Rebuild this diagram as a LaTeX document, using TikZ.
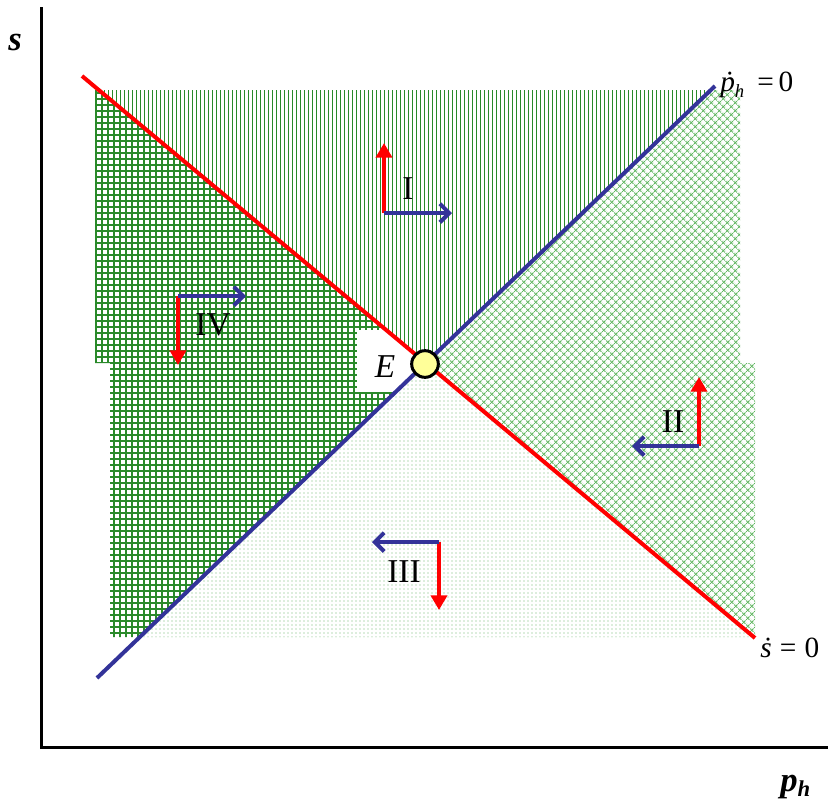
\documentclass[tikz,border=0pt]{standalone}
\usepackage{fontspec}
\setmainfont{Liberation Serif}
\usetikzlibrary{patterns.meta,arrows.meta,calc}
\definecolor{myred}{HTML}{FF0000}
\definecolor{myblue}{HTML}{333399}
\definecolor{gdark}{HTML}{2A8A2A}
\definecolor{glight}{HTML}{5FB55F}
\definecolor{gdots}{HTML}{6DB56D}
\definecolor{cyell}{HTML}{FFFF99}
\begin{document}
\begin{tikzpicture}[x=0.75pt,y=-0.75pt,
  mainline/.style={line width=3pt},
  axisline/.style={line width=2.25pt,black},
  redarrow/.style={myred,line width=3pt,-{Triangle[length=11pt,width=12pt]}},
  bluearrow/.style={myblue,line width=3pt,-{Straight Barb[length=7pt,width=14pt]}},
  roman/.style={font=\fontsize{25}{30}\selectfont,inner sep=0pt},
  eqlabel/.style={font=\fontsize{22}{26}\selectfont,inner sep=0pt},
  axlabel/.style={font=\fontsize{26}{30}\selectfont\bfseries\itshape,inner sep=0pt}]
\useasboundingbox (0,0) rectangle (828,801);
\coordinate (E) at (425,364);
\coordinate (R1) at (82,76);
\coordinate (R2) at (755,638);
\coordinate (B1) at (97,678);
\coordinate (B2) at (715,86);
% region IV (grid)
\begin{scope}
\clip (E) -- ($(E)!4!(R1)$) -- ($(E)!4!(B1)$) -- cycle;
\fill[pattern={Hatch[angle=0,distance=4.5pt,line width=0.8pt]},pattern color=gdark]
  (95,90) rectangle (740,363) (110,363) rectangle (755,637);
\end{scope}
% white label background
\fill[white] (357,330) rectangle (418,392);
% region I (vertical lines)
\begin{scope}
\clip (E) -- ($(E)!4!(R1)$) -- ($(E)!4!(B2)$) -- cycle;
\fill[pattern={Lines[angle=90,distance=3pt,line width=0.6pt]},pattern color=gdark]
  (95,90) rectangle (740,363) (110,363) rectangle (755,637);
\end{scope}
% region II (diagonal hatch)
\begin{scope}
\clip (E) -- ($(E)!4!(B2)$) -- ($(E)!4!(R2)$) -- cycle;
\fill[pattern={Hatch[angle=45,distance=4pt,line width=0.7pt]},pattern color=glight]
  (95,90) rectangle (740,363) (110,363) rectangle (755,637);
\end{scope}
% region III (dots)
\begin{scope}
\clip (E) -- ($(E)!4!(R2)$) -- ($(E)!4!(B1)$) -- cycle;
\fill[pattern={Dots[distance=3pt,radius=0.4pt]},pattern color=gdots]
  (95,90) rectangle (740,363) (110,363) rectangle (755,637);
\end{scope}
% axes
\coordinate (Ytop) at (41,7);
\coordinate (O) at (41,747);
\coordinate (Xend) at (828,747);
\draw[axisline] (Ytop) -- (O) -- (Xend);
% isoclines
\draw[mainline,myblue] (B1) -- (B2);
\draw[mainline,myred] (R1) -- (R2);
\node[circle,draw=black,line width=2.25pt,fill=cyell,minimum size=20pt,inner sep=0pt] (Ec) at (E) {};
\node[font=\fontsize{25}{30}\selectfont\itshape,inner sep=0pt] (Elab) at (385,367) {E};
% labels
\node[axlabel] (slab) at (15,42) {s};
\node[axlabel,anchor=west] (phlab) at (780,787) {p\raisebox{-0.3ex}{\fontsize{17}{20}\selectfont h}};
\node[eqlabel,anchor=west] (pdot) at (720,85) {{\itshape\.{p}}\raisebox{-0.4ex}{\fontsize{14}{18}\selectfont\itshape h}\;\,=\,0};
\node[eqlabel,anchor=west] (sdot) at (760,648) {{\itshape\.{s}}\;=\;0};
% region labels
\node[roman] (lI) at (408,189) {I};
\node[roman] (lII) at (673,422) {II};
\node[roman] (lIII) at (404,572) {III};
\node[roman] (lIV) at (213,325) {IV};
% direction arrows
\coordinate (oI) at (384,213);   \coordinate (oIr) at (384,143);  \coordinate (oIb) at (452,213);
\coordinate (oIV) at (178,296);  \coordinate (oIVr) at (178,365); \coordinate (oIVb) at (246,296);
\coordinate (oII) at (699,446);  \coordinate (oIIr) at (699,377); \coordinate (oIIb) at (632,446);
\coordinate (oIII) at (439,542); \coordinate (oIIIr) at (439,610); \coordinate (oIIIb) at (372,542);
\draw[redarrow] (oI) -- (oIr);
\draw[bluearrow] (oI) -- (oIb);
\draw[redarrow] (oIV) -- (oIVr);
\draw[bluearrow] (oIV) -- (oIVb);
\draw[redarrow] (oII) -- (oIIr);
\draw[bluearrow] (oII) -- (oIIb);
\draw[redarrow] (oIII) -- (oIIIr);
\draw[bluearrow] (oIII) -- (oIIIb);
\end{tikzpicture}
\end{document}
